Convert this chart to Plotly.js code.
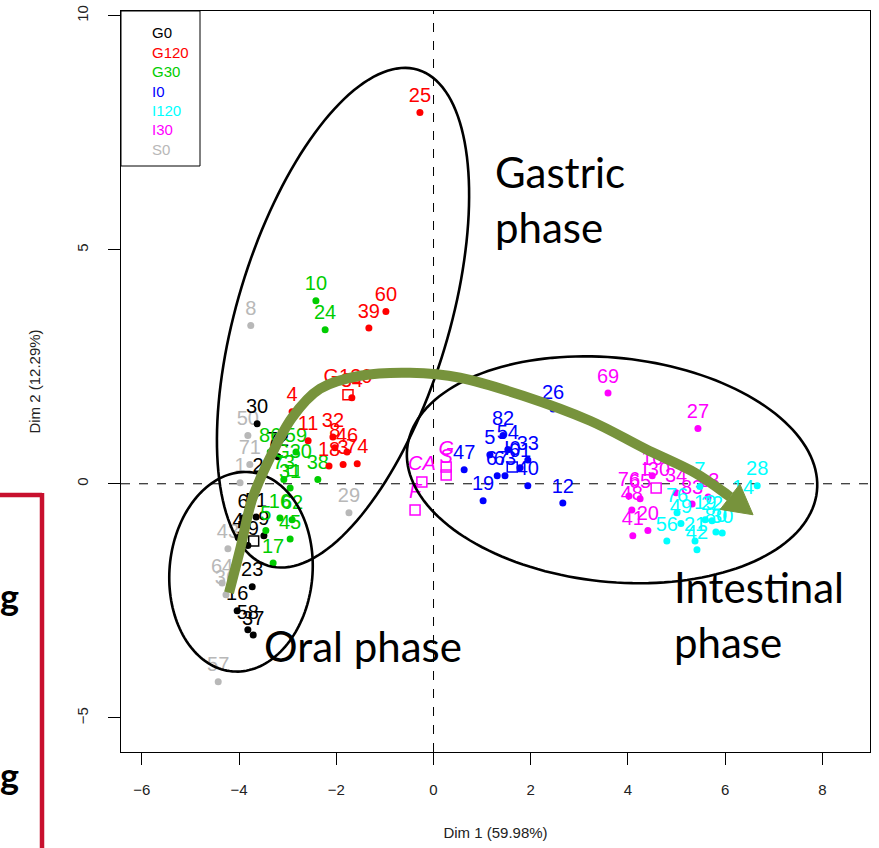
<!DOCTYPE html>
<html><head><meta charset="utf-8">
<script src="https://cdn.plot.ly/plotly-3.0.1.min.js"></script>
<style>html,body{margin:0;padding:0;background:#fff;}#chart{width:879px;height:848px;}</style>
</head><body><div id="chart"></div>
<script>
// ---- groups / legend ----
const groups = ['G0','G120','G30','I0','I120','I30','S0'];
const groupColors = ['#000000','#FF0000','#00CD00','#0000FF','#00FFFF','#FF00FF','#B8B8B8'];

// ---- individuals (Dim 1, Dim 2) per group ----
const g0Labels = ['30','2','72','6','51','4','9','59','23','16','58','37'];
const g0X = [-3.63,-3.61,-3.20,-3.92,-3.65,-4.02,-3.49,-3.82,-3.73,-4.04,-3.82,-3.71];
const g0Y = [1.28,0.02,0.58,-0.73,-0.71,-1.15,-1.11,-1.32,-2.20,-2.71,-3.12,-3.23];

const g120Labels = ['25','60','39','34','4','11','32','8','46','18','3','74'];
const g120X = [-0.28,-0.98,-1.33,-1.68,-2.91,-2.58,-2.07,-2.03,-1.78,-2.15,-1.86,-1.57];
const g120Y = [7.93,3.68,3.33,1.84,1.54,0.92,1.00,0.77,0.68,0.38,0.41,0.43];

const g30Labels = ['10','24','86','59','73','31','38','16','62','5','45','17'];
const g30X = [-2.42,-2.23,-3.36,-2.83,-3.08,-2.95,-2.38,-3.16,-2.91,-3.45,-2.95,-3.30];
const g30Y = [3.91,3.29,0.68,0.68,0.09,-0.09,0.09,-0.73,-0.77,-1.00,-1.18,-1.69];

const i0Labels = ['26','82','54','5','33','47','67','63','61','40','19','12'];
const i0X = [2.46,1.43,1.53,1.16,1.94,0.63,1.31,1.47,1.78,1.94,1.02,2.66];
const i0Y = [1.60,1.03,0.73,0.62,0.51,0.30,0.17,0.17,0.34,-0.04,-0.36,-0.41];

const i120Labels = ['28','14','7','76','49','56','21','42','19','22','80','30'];
const i120X = [6.66,6.37,5.48,5.01,5.09,4.80,5.38,5.42,5.59,5.73,5.81,5.94];
const i120Y = [-0.04,-0.43,-0.06,-0.62,-0.85,-1.22,-1.22,-1.41,-0.77,-0.79,-1.03,-1.05];

const i30Labels = ['69','27','76','65','48','41','20','10','34','83','13'];
const i30X = [3.59,5.44,4.02,4.25,4.08,4.10,4.41,4.50,4.99,5.32,5.65];
const i30Y = [1.94,1.18,-0.26,-0.32,-0.56,-1.11,-1.00,0.17,-0.19,-0.43,-0.28];

const s0Labels = ['8','50','71','1','43','64','36','57','29'];
const s0X = [-3.76,-3.82,-3.78,-3.98,-4.23,-4.35,-4.27,-4.43,-1.74];
const s0Y = [3.38,1.03,0.41,0.02,-1.39,-2.12,-2.37,-4.23,-0.62];

// ---- supplementary categories (squares) ----
const supLabels = ['G120','G30','I0','I30','','<i>CA</i>','<i>F</i>','<i>G</i>','<i>S</i>'];
const supGroup  = [1,2,3,5,0,5,5,5,5];
const supX = [-1.76,-2.89,1.62,4.58,-3.70,-0.24,-0.38,0.26,0.26];
const supY = [1.90,0.28,0.36,-0.09,-1.22,0.04,-0.56,0.36,0.19];

// ---- overlay annotations (slide drawing) ----
const ellipseCenterX = [-1.862,-3.961,3.673];
const ellipseCenterY = [3.547,-1.880,0.299];
const ellipseHalfW = [106,71.5,206];
const ellipseHalfH = [259,100,112];
const ellipseTilt = [16.8,5,6];
const arrowX = [-4.208,-3.981,-3.735,-3.364,-2.912,-2.336,-1.512,-0.484,0.545,1.842,3.220,4.352,5.381,6.101];
const arrowY = [-2.329,-1.410,-0.342,0.556,1.410,2.030,2.308,2.372,2.265,1.880,1.346,0.748,0.235,-0.278];
const arrowTip = [6.574,-0.662];
const phaseText = ['Gastric<br>phase','Intestinal<br>phase','Oral phase'];
const phaseX = [1.22,4.91,-3.53];
const phaseY = [6.08,-2.80,-3.47];

const X_RANGE = [-6.43, 8.98];
const Y_RANGE = [-5.73, 10.1];
const W = 879, H = 848, ML = 121, MR = 9, MT = 11, MB = 96;
const PW = W - ML - MR, PH = H - MT - MB;
const kx = PW / (X_RANGE[1] - X_RANGE[0]);
const ky = PH / (Y_RANGE[1] - Y_RANGE[0]);

const FONT = 'Liberation Sans, Arial, sans-serif';

function groupTrace(x, y, labels, gi) {
  return {
    type: 'scatter', mode: 'markers+text', x: x, y: y, text: labels,
    textposition: 'top center', cliponaxis: false,
    textfont: {family: FONT, size: 20, color: groupColors[gi]},
    marker: {size: 7, color: groupColors[gi]}, hoverinfo: 'text', name: groups[gi]
  };
}

const traces = [
  groupTrace(s0X, s0Y, s0Labels, 6),
  groupTrace(g0X, g0Y, g0Labels, 0),
  groupTrace(g30X, g30Y, g30Labels, 2),
  groupTrace(g120X, g120Y, g120Labels, 1),
  groupTrace(i0X, i0Y, i0Labels, 3),
  groupTrace(i30X, i30Y, i30Labels, 5),
  groupTrace(i120X, i120Y, i120Labels, 4),
  {
    type: 'scatter', mode: 'markers+text', x: supX, y: supY, text: supLabels,
    textposition: 'top center',
    textfont: {family: FONT, size: 20, color: supGroup.map(g => groupColors[g])},
    marker: {symbol: 'square-open', size: 10, line: {width: 1.5}, color: supGroup.map(g => groupColors[g])},
    hoverinfo: 'text'
  }
];

function ellipsePath(cx, cy, ah, av, deg) {
  const phi = deg * Math.PI / 180;
  let d = '';
  for (let i = 0; i <= 160; i++) {
    const t = 2 * Math.PI * i / 160;
    const lx = ah * Math.cos(t), ly = av * Math.sin(t);
    const px = lx * Math.cos(phi) - ly * Math.sin(phi);
    const py = lx * Math.sin(phi) + ly * Math.cos(phi);
    d += (i ? 'L' : 'M') + (cx + px / kx).toFixed(4) + ',' + (cy - py / ky).toFixed(4);
  }
  return d + 'Z';
}

function splinePath(xs, ys) {
  let d = 'M' + xs[0] + ',' + ys[0];
  const n = xs.length;
  for (let i = 0; i < n - 1; i++) {
    const x0 = xs[Math.max(i - 1, 0)], y0 = ys[Math.max(i - 1, 0)];
    const x1 = xs[i], y1 = ys[i], x2 = xs[i + 1], y2 = ys[i + 1];
    const x3 = xs[Math.min(i + 2, n - 1)], y3 = ys[Math.min(i + 2, n - 1)];
    const c1x = x1 + (x2 - x0) / 6, c1y = y1 + (y2 - y0) / 6;
    const c2x = x2 - (x3 - x1) / 6, c2y = y2 - (y3 - y1) / 6;
    d += 'C' + c1x.toFixed(4) + ',' + c1y.toFixed(4) + ' ' + c2x.toFixed(4) + ',' + c2y.toFixed(4) + ' ' + x2.toFixed(4) + ',' + y2.toFixed(4);
  }
  return d;
}

function headPath(bx, by, tx, ty, halfW) {
  const dxp = (tx - bx) * kx, dyp = -(ty - by) * ky;
  const len = Math.hypot(dxp, dyp);
  const ux = -dyp / len * halfW, uy = dxp / len * halfW; // perpendicular in px
  const ax = bx + ux / kx, ay = by - uy / ky;
  const cx = bx - ux / kx, cy = by + uy / ky;
  return 'M' + ax + ',' + ay + 'L' + tx + ',' + ty + 'L' + cx + ',' + cy + 'Z';
}

const shapes = [];
// reference dashed lines
shapes.push({type: 'line', xref: 'x', yref: 'paper', x0: 0, x1: 0, y0: 0, y1: 1, line: {color: '#000', width: 1, dash: 'dash'}, layer: 'below'});
shapes.push({type: 'line', xref: 'paper', yref: 'y', x0: 0, x1: 1, y0: 0, y1: 0, line: {color: '#000', width: 1, dash: 'dash'}, layer: 'below'});
// ellipses
for (let i = 0; i < ellipseCenterX.length; i++) {
  shapes.push({type: 'path', xref: 'x', yref: 'y', path: ellipsePath(ellipseCenterX[i], ellipseCenterY[i], ellipseHalfW[i], ellipseHalfH[i], ellipseTilt[i]), line: {color: '#000', width: 2.6}});
}
// arrow
shapes.push({type: 'path', xref: 'x', yref: 'y', path: splinePath(arrowX, arrowY), line: {color: '#77933C', width: 10}});
shapes.push({type: 'path', xref: 'x', yref: 'y', path: headPath(arrowX[arrowX.length - 1], arrowY[arrowY.length - 1], arrowTip[0], arrowTip[1], 16), fillcolor: '#77933C', line: {color: '#77933C', width: 1}});
// legend box
const legTop = 1, legBottom = (H - MB - 166) / PH, legRight = (200 - ML) / PW;
shapes.push({type: 'rect', xref: 'paper', yref: 'paper', x0: 0, x1: legRight, y0: legBottom, y1: legTop, line: {color: '#000', width: 1}, fillcolor: 'rgba(0,0,0,0)'});
// red slide frame at left edge
const px2x = px => (px - ML) / PW, py2y = py => (H - MB - py) / PH;
shapes.push({type: 'line', xref: 'paper', yref: 'paper', x0: px2x(-6), x1: px2x(42), y0: py2y(495), y1: py2y(495), line: {color: '#C8102E', width: 4.5}});
shapes.push({type: 'line', xref: 'paper', yref: 'paper', x0: px2x(42), x1: px2x(42), y0: py2y(493), y1: py2y(852), line: {color: '#C8102E', width: 4.5}});

const annotations = [];
groups.forEach((g, i) => {
  annotations.push({xref: 'paper', yref: 'paper', x: px2x(150), y: py2y(33 + 19.4 * i), text: g, showarrow: false, xanchor: 'left', yanchor: 'middle', font: {family: FONT, size: 15, color: groupColors[i]}});
});
phaseText.forEach((t, i) => {
  annotations.push({xref: 'x', yref: 'y', x: phaseX[i], y: phaseY[i], text: t, showarrow: false, xanchor: 'left', yanchor: 'middle', align: 'left', font: {family: 'Lato, Liberation Sans, sans-serif', size: 42, color: '#000'}});
});
annotations.push({xref: 'paper', yref: 'paper', x: px2x(21), y: py2y(596), text: '<b>g</b>', showarrow: false, xanchor: 'right', yanchor: 'middle', font: {family: 'Lato, sans-serif', size: 36, color: '#000'}});
annotations.push({xref: 'paper', yref: 'paper', x: px2x(21), y: py2y(775), text: '<b>g</b>', showarrow: false, xanchor: 'right', yanchor: 'middle', font: {family: 'Lato, sans-serif', size: 36, color: '#000'}});

const axisCommon = {
  showgrid: false, zeroline: false, showline: true, mirror: true, linecolor: '#000', linewidth: 1,
  ticks: 'outside', ticklen: 12, tickcolor: '#000', tickwidth: 1,
  tickfont: {family: FONT, size: 15, color: '#222'}
};

const layout = {
  width: W, height: H, margin: {l: ML, r: MR, t: MT, b: MB, pad: 0},
  paper_bgcolor: '#fff', plot_bgcolor: '#fff', showlegend: false,
  font: {family: FONT},
  xaxis: Object.assign({}, axisCommon, {range: X_RANGE, tickvals: [-6,-4,-2,0,2,4,6,8], ticklabelstandoff: 12,
    title: {text: 'Dim 1 (59.98%)', font: {family: FONT, size: 15, color: '#222'}, standoff: 30}}),
  yaxis: Object.assign({}, axisCommon, {range: Y_RANGE, tickvals: [-5,0,5,10], tickangle: -90, ticklabelstandoff: 14,
    title: {text: 'Dim 2 (12.29%)', font: {family: FONT, size: 15, color: '#222'}, standoff: 29}}),
  shapes: shapes, annotations: annotations
};

Plotly.newPlot('chart', traces, layout, {displayModeBar: false, staticPlot: true});
</script></body></html>
